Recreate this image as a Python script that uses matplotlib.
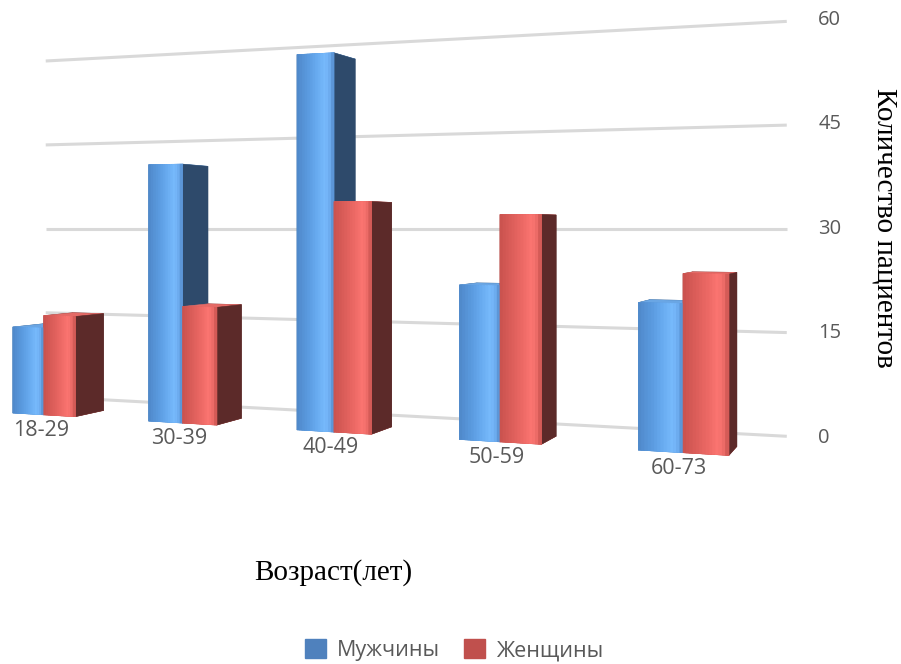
import numpy as np
import matplotlib.pyplot as plt
from matplotlib.colors import to_rgb
from matplotlib.patches import Patch
from matplotlib.text import Text
from mpl_toolkits.mplot3d import proj3d
from mpl_toolkits.mplot3d.art3d import Poly3DCollection

# data
ages = ['18-29', '30-39', '40-49', '50-59', '60-73']
men = [14, 40, 56, 22, 20]
women = [16, 18, 34, 32, 24]
ticks = [0, 15, 30, 45, 60]
series = ['Мужчины', 'Женщины']

plt.rcParams['font.family'] = ['Open Sans', 'DejaVu Sans']

W, H = 901, 664
fig = plt.figure(figsize=(W / 100, H / 100), dpi=100)

# square 3d axes, a bit larger than the figure
S = 900
ax = fig.add_axes([-62 / W, -27 / H, S / W, S / H], projection='3d',
                  computed_zorder=False)
ax.set_proj_type('persp', focal_length=0.28)
ax.view_init(elev=0, azim=-68.7, roll=0)

# geometry (category units horizontally)
bar_w = 0.235
bar_d = 0.31
wall_y = 0.78
g = 25.6  # value units per category step, keeps the box isotropic

x = np.arange(len(ages), dtype=float)
xs = np.concatenate([x - bar_w, x])
hs = np.concatenate([men, women]).astype(float)
n_men = len(men)

# faces: bottom, top, front, back, left, right
blue_faces = ['#4a7fb8', '#6aa6e4', '#5f9fe4', '#2e4a6b', '#2e4a6b', '#2e4a6b']
red_faces = ['#a84440', '#e46a66', '#e4605c', '#5a2828', '#5a2828', '#5c2a29']
facecolors = []
for i in range(len(xs)):
    facecolors += blue_faces if i < n_men else red_faces

# gradient across the front faces (left -> right)
blue_grad = ['#4f88c9', '#5a9ade', '#68abf0', '#78bbfd', '#6aa8ec', '#5088c6']
red_grad = ['#c9524e', '#dc5e5a', '#ec6965', '#fc7672', '#e86864', '#c4504d']
grad_pos = [0.0, 0.3, 0.55, 0.78, 0.92, 1.0]


def grad_color(stops, f):
    rgb = np.array([to_rgb(c) for c in stops])
    return [np.interp(f, grad_pos, rgb[:, k]) for k in range(3)]


for v in ticks:
    ax.plot([-0.55, 4.45], [wall_y, wall_y], [v, v], color='#d9d9d9', lw=2.2,
            zorder=1, solid_capstyle='butt')

ax.bar3d(xs, np.zeros_like(xs), np.zeros_like(xs), bar_w, bar_d, hs,
         color=facecolors, edgecolor=facecolors, linewidth=0.4, shade=False,
         zorder=3)

n_strip = 14
strips, strip_cols = [], []
for i in range(len(xs)):
    stops = blue_grad if i < n_men else red_grad
    for k in range(n_strip):
        xa = xs[i] + bar_w * k / n_strip
        xb = xs[i] + bar_w * (k + 1) / n_strip
        strips.append([(xa, 0, 0), (xb, 0, 0), (xb, 0, hs[i]), (xa, 0, hs[i])])
        strip_cols.append(grad_color(stops, (k + 0.5) / n_strip))
front = Poly3DCollection(strips, facecolors=strip_cols, edgecolors=strip_cols,
                         linewidths=0.5, zorder=4)
ax.add_collection3d(front)

ax.set_xlim(-0.6, 4.6)
ax.set_ylim(-0.548, 2.652)
ax.set_zlim(0, 60)
ax.set_box_aspect((5.2 * g, 3.2 * g, 60), zoom=1.0873)
ax.set_axis_off()

# labels: project the 3d anchor once, then place plain 2d text
M = ax.get_proj()
for v in ticks:
    px, py, _ = proj3d.proj_transform(4.62, wall_y, v, M)
    ax.text2D(px, py, str(v), ha='left', va='center', color='#595959',
              fontsize=14.5, zorder=5)
for i, a in enumerate(ages):
    px, py, _ = proj3d.proj_transform(i - 0.02, 0, -0.8, M)
    ax.text2D(px, py, a, ha='center', va='top', color='#595959',
              fontsize=15.5, zorder=5)

serif = ['Liberation Serif', 'DejaVu Serif']
fig.text(333 / W, 1 - 573 / H, 'Возраст(лет)', family=serif, fontsize=21,
         ha='center', va='center')
fig.text(884 / W, 1 - 228 / H, 'Количество пациентов', family=serif,
         fontsize=21, rotation=270, ha='center', va='center')

handles = [Patch(color='#4f81bd'), Patch(color='#c0504d')]
fig.legend(handles, series, loc='center', bbox_to_anchor=(454 / W, 14 / H),
           ncol=2, frameon=False, fontsize=15.5, labelcolor='#595959',
           handlelength=1.0, handleheight=1.0, handletextpad=0.5,
           columnspacing=1.1, borderpad=0.1)

# empty title / axis texts of the 3d axes are not needed
for t in fig.findobj(Text):
    if not t.get_text():
        t.set_visible(False)

fig.savefig('out.png', dpi=100)
